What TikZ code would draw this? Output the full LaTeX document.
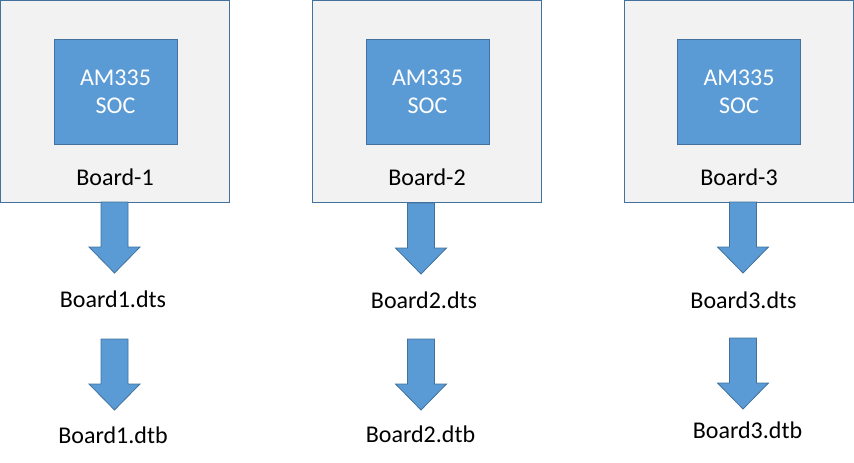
\documentclass[tikz,border=0pt]{standalone}
\usepackage{fontspec}
\setmainfont{Carlito}
\usetikzlibrary{positioning, calc}

\definecolor{socblue}{HTML}{5B9BD5}
\definecolor{socedge}{HTML}{41719C}
\definecolor{boardgrey}{HTML}{F2F2F2}

\tikzset{
  board/.style={draw=socedge, fill=boardgrey, line width=0.8pt,
    minimum width=229pt, minimum height=202pt, inner sep=0pt},
  soc/.style={draw=socedge, fill=socblue, text=white, line width=0.8pt,
    minimum width=123pt, minimum height=105pt, inner sep=0pt, align=center,
    font=\fontsize{24}{28}\selectfont},
  fname/.style={font=\fontsize{24}{28}\selectfont, inner sep=0pt, anchor=base},
  blockarr/.pic={
    \draw[draw=socedge, fill=socblue, line width=0.8pt]
      (-13.5,0) -- (13.5,0) -- (13.5,45) -- (25.5,45) -- (0,71)
      -- (-25.5,45) -- (-13.5,45) -- cycle;
  },
}

\begin{document}
\begin{tikzpicture}[x=1pt,y=-1pt]
  \useasboundingbox (0,0) rectangle (854,463);

  % boards
  \node[board] (board1) at (114.5,101) {};
  \node[board] (board2) at (426.5,101) {};
  \node[board] (board3) at (739,101) {};

  \node[soc] (soc1) at (115.5,91.5) {AM335\\SOC};
  \node[soc] (soc2) at (427.5,91.5) {AM335\\SOC};
  \node[soc] (soc3) at (739,91.5) {AM335\\SOC};

  \node[fname] (name1) at (115,185) {Board-1};
  \node[fname] (name2) at (427,185) {Board-2};
  \node[fname] (name3) at (739,185) {Board-3};

  % board -> dts
  \pic at (114.5,202) {blockarr};
  \pic at (421,203) {blockarr};
  \pic at (743,202) {blockarr};

  \node[fname] (dts1) at (113,307) {Board1.dts};
  \node[fname] (dts2) at (424,308) {Board2.dts};
  \node[fname] (dts3) at (743.5,308) {Board3.dts};

  % dts -> dtb
  \pic at (114.5,339) {blockarr};
  \pic at (421,339) {blockarr};
  \pic at (743,338) {blockarr};

  \node[fname] (dtb1) at (113,443) {Board1.dtb};
  \node[fname] (dtb2) at (420.5,442) {Board2.dtb};
  \node[fname] (dtb3) at (747.5,438) {Board3.dtb};
\end{tikzpicture}
\end{document}
